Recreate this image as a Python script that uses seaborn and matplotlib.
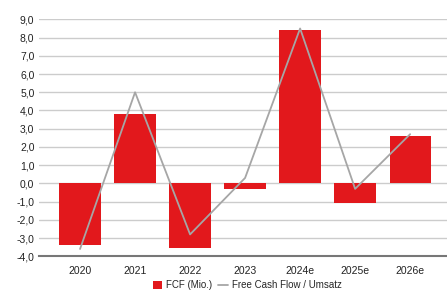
import numpy as np
import pandas as pd
import matplotlib.pyplot as plt
import seaborn as sns

sns.set_style('white')
plt.rcParams['font.family'] = ['Liberation Sans', 'DejaVu Sans']

years = ['2020', '2021', '2022', '2023', '2024e', '2025e', '2026e']
fcf = [-3.4, 3.8, -3.55, -0.3, 8.4, -1.1, 2.6]
fcf_margin = [-3.6, 5.0, -2.8, 0.3, 8.5, -0.3, 2.7]

df = pd.DataFrame({'year': years, 'fcf': fcf, 'margin': fcf_margin})

fig = plt.figure(figsize=(4.47, 2.98), dpi=100)
ax = fig.add_axes([0.088, 0.14, 0.912, 0.795])

# Gitternetz
for v in np.arange(-3, 10, 1):
    ax.axhline(v, color='#cccccc', lw=1.0, zorder=0)

sns.barplot(data=df, x='year', y='fcf', color='#e2181c', width=0.75,
            saturation=1, linewidth=0, ax=ax, zorder=2, label='FCF (Mio.)')
sns.lineplot(x=np.arange(len(years)), y=df['margin'], color='#a6a6a6', lw=1.3,
             ax=ax, zorder=3, label='Free Cash Flow / Umsatz')

ax.set_ylim(-4.0, 9.0)
ax.set_xlim(-0.74, 6.67)
ax.set_yticks(np.arange(-4, 10, 1))
ax.set_yticklabels([f'{v:.1f}'.replace('.', ',') for v in np.arange(-4, 10, 1)])
ax.set_xlabel('')
ax.set_ylabel('')
ax.tick_params(axis='both', labelsize=7.5, length=0, colors='#222222')
ax.tick_params(axis='x', pad=7)
for s in ['top', 'right', 'left']:
    ax.spines[s].set_visible(False)
ax.spines['bottom'].set_color('#777777')
ax.spines['bottom'].set_linewidth(1.5)

handles, labels = ax.get_legend_handles_labels()
order = [labels.index('FCF (Mio.)'), labels.index('Free Cash Flow / Umsatz')]
ax.legend([handles[i] for i in order], [labels[i] for i in order],
          loc='upper center', bbox_to_anchor=(0.51, -0.065), ncol=2, frameon=False,
          fontsize=7, handlelength=1.0, handleheight=0.8, columnspacing=0.6,
          handletextpad=0.4)

plt.savefig('out.png', dpi=100)
plt.close()
